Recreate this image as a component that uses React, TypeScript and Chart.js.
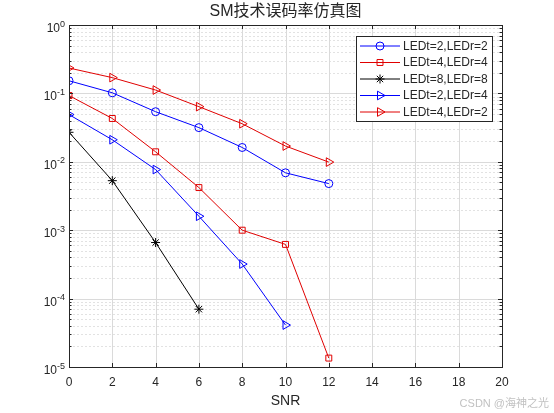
import { useEffect, useRef } from 'react';
import { Chart, registerables } from 'chart.js';
import { drawPoint } from 'chart.js/helpers';

Chart.register(...registerables);

// SNR (dB) points
const snr = [0, 2, 4, 6, 8, 10, 12];

// bit error rate per antenna set-up
const berT2R2 = [0.153, 0.102, 0.054, 0.0316, 0.0162, 0.0069, 0.0048];
const berT4R4 = [0.093, 0.043, 0.014, 0.0042, 0.001, 0.00062, 0.0000135];
const berT8R8 = [0.027, 0.0053, 0.00066, 0.00007];
const berT2R4 = [0.049, 0.021, 0.0077, 0.0016, 0.00032, 0.000041];
const berT4R2 = [0.235, 0.17, 0.112, 0.064, 0.036, 0.017, 0.0099];

const seriesLabels = ['LEDt=2,LEDr=2', 'LEDt=4,LEDr=4', 'LEDt=8,LEDr=8', 'LEDt=2,LEDr=4', 'LEDt=4,LEDr=2'];

// axis ticks
const xTicks = [0, 2, 4, 6, 8, 10, 12, 14, 16, 18, 20];
const yExponents = [0, -1, -2, -3, -4, -5];
const minorSteps = [2, 3, 4, 5, 6, 7, 8, 9];

const chartTitle = 'SM技术误码率仿真图';
const xTitle = 'SNR';
const watermark = 'CSDN @海神之光';

const AXIS = '#262626';
const FONT = 'Arial, "Liberation Sans", "Noto Sans CJK SC", sans-serif';

const toPoints = (ys: number[]) => ys.map((v, i) => ({ x: snr[i], y: v }));

const matlabAxes = {
  id: 'matlabAxes',
  beforeDatasetsDraw(chart: any) {
    const { ctx, chartArea: a, scales } = chart;
    const xs = scales.x;
    const ys = scales.y;
    ctx.save();
    ctx.lineWidth = 1;

    // minor y grid, dotted
    ctx.strokeStyle = '#e2e2e2';
    ctx.setLineDash([2, 2]);
    yExponents.slice(1).forEach((e) => {
      minorSteps.forEach((m) => {
        const py = Math.round(ys.getPixelForValue(m * Math.pow(10, e))) + 0.5;
        ctx.beginPath();
        ctx.moveTo(a.left, py);
        ctx.lineTo(a.right, py);
        ctx.stroke();
      });
    });

    // major grid
    ctx.setLineDash([]);
    ctx.strokeStyle = '#dadada';
    xTicks.forEach((t) => {
      const px = Math.round(xs.getPixelForValue(t)) + 0.5;
      ctx.beginPath();
      ctx.moveTo(px, a.top);
      ctx.lineTo(px, a.bottom);
      ctx.stroke();
    });
    yExponents.forEach((e) => {
      const py = Math.round(ys.getPixelForValue(Math.pow(10, e))) + 0.5;
      ctx.beginPath();
      ctx.moveTo(a.left, py);
      ctx.lineTo(a.right, py);
      ctx.stroke();
    });
    ctx.restore();
  },
  afterDatasetsDraw(chart: any) {
    const { ctx, chartArea: a, scales } = chart;
    const xs = scales.x;
    const ys = scales.y;
    ctx.save();
    ctx.strokeStyle = AXIS;
    ctx.fillStyle = AXIS;
    ctx.lineWidth = 1;

    // box
    ctx.strokeRect(Math.round(a.left) + 0.5, Math.round(a.top) + 0.5, Math.round(a.width), Math.round(a.height));

    // inward ticks
    ctx.beginPath();
    xTicks.forEach((t) => {
      const px = Math.round(xs.getPixelForValue(t)) + 0.5;
      ctx.moveTo(px, a.bottom);
      ctx.lineTo(px, a.bottom - 4);
      ctx.moveTo(px, a.top);
      ctx.lineTo(px, a.top + 4);
    });
    yExponents.forEach((e) => {
      const py = Math.round(ys.getPixelForValue(Math.pow(10, e))) + 0.5;
      ctx.moveTo(a.left, py);
      ctx.lineTo(a.left + 4, py);
      ctx.moveTo(a.right, py);
      ctx.lineTo(a.right - 4, py);
    });
    yExponents.slice(1).forEach((e) => {
      minorSteps.forEach((m) => {
        const py = Math.round(ys.getPixelForValue(m * Math.pow(10, e))) + 0.5;
        ctx.moveTo(a.left, py);
        ctx.lineTo(a.left + 2.5, py);
        ctx.moveTo(a.right, py);
        ctx.lineTo(a.right - 2.5, py);
      });
    });
    ctx.stroke();

    // x tick labels
    ctx.font = '12px ' + FONT;
    ctx.textAlign = 'center';
    ctx.textBaseline = 'middle';
    xTicks.forEach((t) => {
      ctx.fillText(String(t), xs.getPixelForValue(t), a.bottom + 16);
    });

    // y tick labels 10^n
    yExponents.forEach((e) => {
      const py = ys.getPixelForValue(Math.pow(10, e));
      const exp = e === 0 ? '0' : '-' + Math.abs(e);
      ctx.font = '9px ' + FONT;
      const ew = ctx.measureText(exp).width;
      ctx.textAlign = 'left';
      ctx.textBaseline = 'alphabetic';
      const right = a.left - 4;
      ctx.fillText(exp, right - ew, py + 1.5);
      ctx.font = '12px ' + FONT;
      const bw = ctx.measureText('10').width;
      ctx.fillText('10', right - ew - bw, py + 7);
    });

    // titles
    ctx.textAlign = 'center';
    ctx.textBaseline = 'middle';
    ctx.font = '14px ' + FONT;
    ctx.fillText(xTitle, (a.left + a.right) / 2, a.bottom + 34);
    ctx.font = '16px ' + FONT;
    ctx.fillText(chartTitle, (a.left + a.right) / 2, 12);

    // legend
    const lx = 356;
    const ly = 36;
    const lw = 136;
    const lh = 85;
    ctx.fillStyle = '#ffffff';
    ctx.fillRect(lx, ly, lw, lh);
    ctx.strokeStyle = AXIS;
    ctx.strokeRect(lx + 0.5, ly + 0.5, lw, lh);
    ctx.font = '12px ' + FONT;
    ctx.textAlign = 'left';
    ctx.textBaseline = 'middle';
    chart.data.datasets.forEach((ds: any, i: number) => {
      const cy = ly + 10 + i * 16.5;
      ctx.strokeStyle = ds.borderColor;
      ctx.lineWidth = 1;
      ctx.beginPath();
      ctx.moveTo(lx + 4, cy);
      ctx.lineTo(lx + 44, cy);
      ctx.stroke();
      ctx.fillStyle = 'rgba(0,0,0,0)';
      drawPoint(ctx, {
        pointStyle: ds.pointStyle,
        rotation: ds.pointRotation || 0,
        radius: ds.pointRadius,
        borderWidth: 1,
      }, lx + 24, cy);
      ctx.fillStyle = AXIS;
      ctx.fillText(ds.label, lx + 47, cy + 0.5);
    });

    // watermark
    ctx.font = '11px ' + FONT;
    ctx.fillStyle = 'rgba(150,150,150,0.6)';
    ctx.textAlign = 'right';
    ctx.fillText(watermark, 549, 404);
    ctx.restore();
  },
};

export default function App() {
  const canvasRef = useRef<HTMLCanvasElement>(null);

  useEffect(() => {
    if (!canvasRef.current) return;
    const mk = (label: string, ys: number[], color: string, style: string, radius: number, rotation = 0) => ({
      label,
      data: toPoints(ys),
      borderColor: color,
      backgroundColor: 'rgba(0,0,0,0)',
      borderWidth: 1,
      pointStyle: style,
      pointRadius: radius,
      pointRotation: rotation,
      pointBorderColor: color,
      pointBackgroundColor: 'rgba(0,0,0,0)',
      pointBorderWidth: 1,
      tension: 0,
    });

    const chart = new Chart(canvasRef.current, {
      type: 'line',
      data: {
        datasets: [
          mk(seriesLabels[0], berT2R2, '#0000ff', 'circle', 4),
          mk(seriesLabels[1], berT4R4, '#e00000', 'rect', 4.2),
          mk(seriesLabels[2], berT8R8, '#000000', 'star', 4.5),
          mk(seriesLabels[3], berT2R4, '#0000ff', 'triangle', 5, 90),
          mk(seriesLabels[4], berT4R2, '#e00000', 'triangle', 5, 90),
        ] as any,
      },
      options: {
        responsive: true,
        maintainAspectRatio: false,
        animation: false,
        layout: { padding: { left: 69, top: 25, right: 52, bottom: 46 } },
        scales: {
          x: { type: 'linear', min: 0, max: 20, display: false },
          y: { type: 'logarithmic', min: 1e-5, max: 1, display: false },
        },
        plugins: {
          legend: { display: false },
          tooltip: { enabled: false },
          title: { display: false },
        },
      },
      plugins: [matlabAxes],
    });

    return () => {
      chart.destroy();
    };
  }, []);

  return (
    <div style={{ position: 'fixed', left: 0, top: 0, width: 554, height: 413, background: '#ffffff' }}>
      <canvas ref={canvasRef} />
    </div>
  );
}
